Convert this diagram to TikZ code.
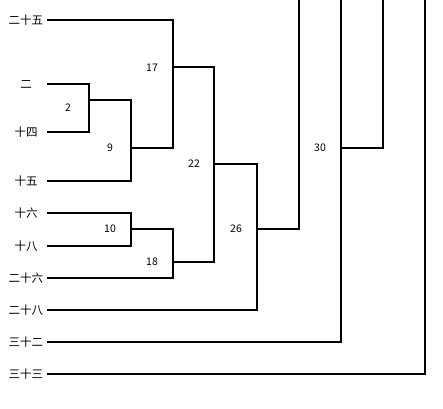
\documentclass[tikz,border=0pt]{standalone}
\usepackage{fontspec}
\newfontfamily\cjk{Noto Sans CJK SC}
\begin{document}
\begin{tikzpicture}[x=1pt,y=-1pt,
  leaf/.style={inner sep=0pt,font=\cjk\fontsize{11.5}{12}\selectfont},
  hgt/.style={inner sep=0pt,font=\cjk\fontsize{10.5}{11}\selectfont},
  link/.style={line width=1.8pt,line join=miter,line cap=rect}]
\useasboundingbox (0,0) rectangle (443,408);
% leaves
\node[leaf] (l25) at (26,20) {二十五};
\node[leaf] (l2)  at (26,84) {二};
\node[leaf] (l14) at (26,132) {十四};
\node[leaf] (l15) at (26,181) {十五};
\node[leaf] (l16) at (26,213) {十六};
\node[leaf] (l18) at (26,246) {十八};
\node[leaf] (l26) at (26,278) {二十六};
\node[leaf] (l28) at (26,310) {二十八};
\node[leaf] (l32) at (26,342) {三十二};
\node[leaf] (l33) at (26,374) {三十三};
% start points of leaf lines
\coordinate (a25) at (48,20);
\coordinate (a2)  at (48,84);
\coordinate (a14) at (48,132);
\coordinate (a15) at (48,181);
\coordinate (a16) at (48,213);
\coordinate (a18) at (48,246);
\coordinate (a26) at (48,278);
\coordinate (a28) at (48,310);
\coordinate (a32) at (48,342);
\coordinate (a33) at (48,374);
% merge outputs
\coordinate (o2)  at (89,100);
\coordinate (o9)  at (131,148);
\coordinate (o17) at (173,67);
\coordinate (o10) at (131,229);
\coordinate (o18) at (173,262);
\coordinate (o22) at (214,164);
\coordinate (o26) at (257,229);
\coordinate (o30) at (341,148);
% top ends
\coordinate (e1) at (299,0);
\coordinate (e2) at (341,0);
\coordinate (e3) at (383,0);
\coordinate (e4) at (425,0);
% links
\draw[link] (a2) -- (89,84) -- (89,132) -- (a14);
\draw[link] (o2) -- (131,100) -- (131,181) -- (a15);
\draw[link] (a25) -- (173,20) -- (173,148) -- (o9);
\draw[link] (a16) -- (131,213) -- (131,246) -- (a18);
\draw[link] (o10) -- (173,229) -- (173,278) -- (a26);
\draw[link] (o17) -- (214,67) -- (214,262) -- (o18);
\draw[link] (o22) -- (257,164) -- (257,310) -- (a28);
\draw[link] (o26) -- (299,229) -- (e1);
\draw[link] (a32) -- (341,342) -- (e2);
\draw[link] (o30) -- (383,148) -- (e3);
\draw[link] (a33) -- (425,374) -- (e4);
% heights
\node[hgt] (h2)  at (68,108) {2};
\node[hgt] (h9)  at (110,148) {9};
\node[hgt] (h17) at (152,68) {17};
\node[hgt] (h10) at (110,229) {10};
\node[hgt] (h18) at (152,262) {18};
\node[hgt] (h22) at (194,164) {22};
\node[hgt] (h26) at (236,229) {26};
\node[hgt] (h30) at (320,148) {30};
\end{tikzpicture}
\end{document}
